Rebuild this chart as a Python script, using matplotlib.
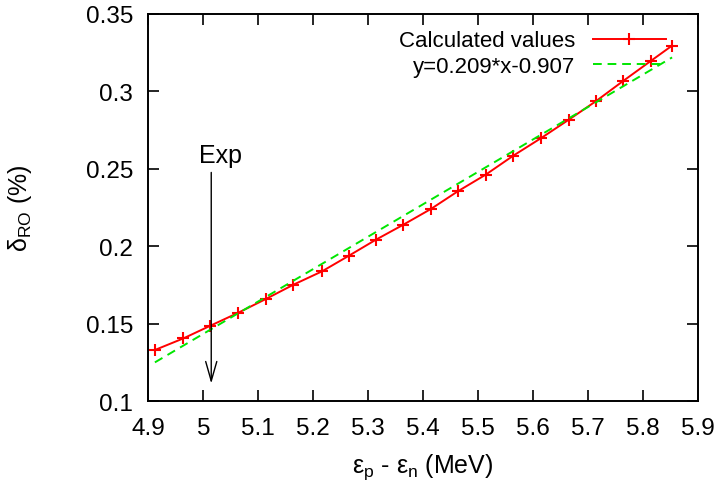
import matplotlib
matplotlib.use("Agg")
import matplotlib.pyplot as plt
from matplotlib.ticker import FormatStrFormatter, MultipleLocator

plt.rcParams['font.family'] = ['Liberation Sans', 'DejaVu Sans']
plt.rcParams['mathtext.fontset'] = 'custom'
plt.rcParams['mathtext.rm'] = 'Liberation Sans'
plt.rcParams['mathtext.it'] = 'Liberation Sans'

# calculated values
eps_diff = [4.912, 4.964, 5.012, 5.063, 5.114, 5.164, 5.216, 5.265, 5.314, 5.363,
            5.414, 5.463, 5.514, 5.564, 5.614, 5.665, 5.715, 5.764, 5.815, 5.853]
delta_ro = [0.1331, 0.1406, 0.1486, 0.1570, 0.1660, 0.1752, 0.1838, 0.1939, 0.2042, 0.2137,
            0.2240, 0.2354, 0.2462, 0.2584, 0.2696, 0.2816, 0.2937, 0.3066, 0.3197, 0.3294]

# linear fit (as drawn)
fit_slope = 0.209
fit_icpt = -0.9015
fit_label = "y=0.209*x-0.907"

exp_x = 5.0145

fs = 18
fig = plt.figure(figsize=(7.21, 4.89), dpi=100)
ax = fig.add_axes([0.2057, 0.1773, 0.968 - 0.2057, 0.970 - 0.1773])

ax.plot(eps_diff, delta_ro, color='#ff0000', lw=1.4, marker='+', ms=9, mew=1.5,
        label="Calculated values")
fx = [eps_diff[0], eps_diff[-1]]
fy = [fit_slope * v + fit_icpt for v in fx]
ax.plot(fx, fy, color='#00e600', lw=1.4, ls=(0, (4.5, 3)), label=fit_label)

ax.annotate("", xy=(exp_x, 0.1097), xytext=(exp_x, 0.2494),
            arrowprops=dict(arrowstyle='->,head_length=1.4,head_width=0.4', color='black', lw=1.0))
ax.text(exp_x + 0.016, 0.2545, "Exp", ha='center', va='baseline', fontsize=fs)

ax.set_xlim(4.9, 5.9)
ax.set_ylim(0.1, 0.35)
ax.xaxis.set_major_locator(MultipleLocator(0.1))
ax.yaxis.set_major_locator(MultipleLocator(0.05))
ax.xaxis.set_major_formatter(FormatStrFormatter('%g'))
ax.yaxis.set_major_formatter(FormatStrFormatter('%g'))
ax.tick_params(direction='in', length=8, width=1.2, labelsize=17.5, top=True, right=True)
ax.tick_params(axis='x', pad=11)
ax.tick_params(axis='y', pad=11)
for s in ax.spines.values():
    s.set_linewidth(1.4)

ax.set_xlabel(r"$\mathrm{\varepsilon_p}$ - $\mathrm{\varepsilon_n}$ (MeV)", fontsize=fs, labelpad=9)
ax.set_ylabel(r"$\mathrm{\delta_{RO}}$ (%)", fontsize=fs, labelpad=37)

leg = ax.legend(loc='upper right', bbox_to_anchor=(0.9418, 0.957), frameon=False,
                markerfirst=False, fontsize=16, handlelength=3.3, handletextpad=0.8,
                borderpad=0, borderaxespad=0, labelspacing=0.2)
for col in leg._legend_handle_box.get_children():
    col.align = "right"

fig.savefig("out.png", dpi=100)
